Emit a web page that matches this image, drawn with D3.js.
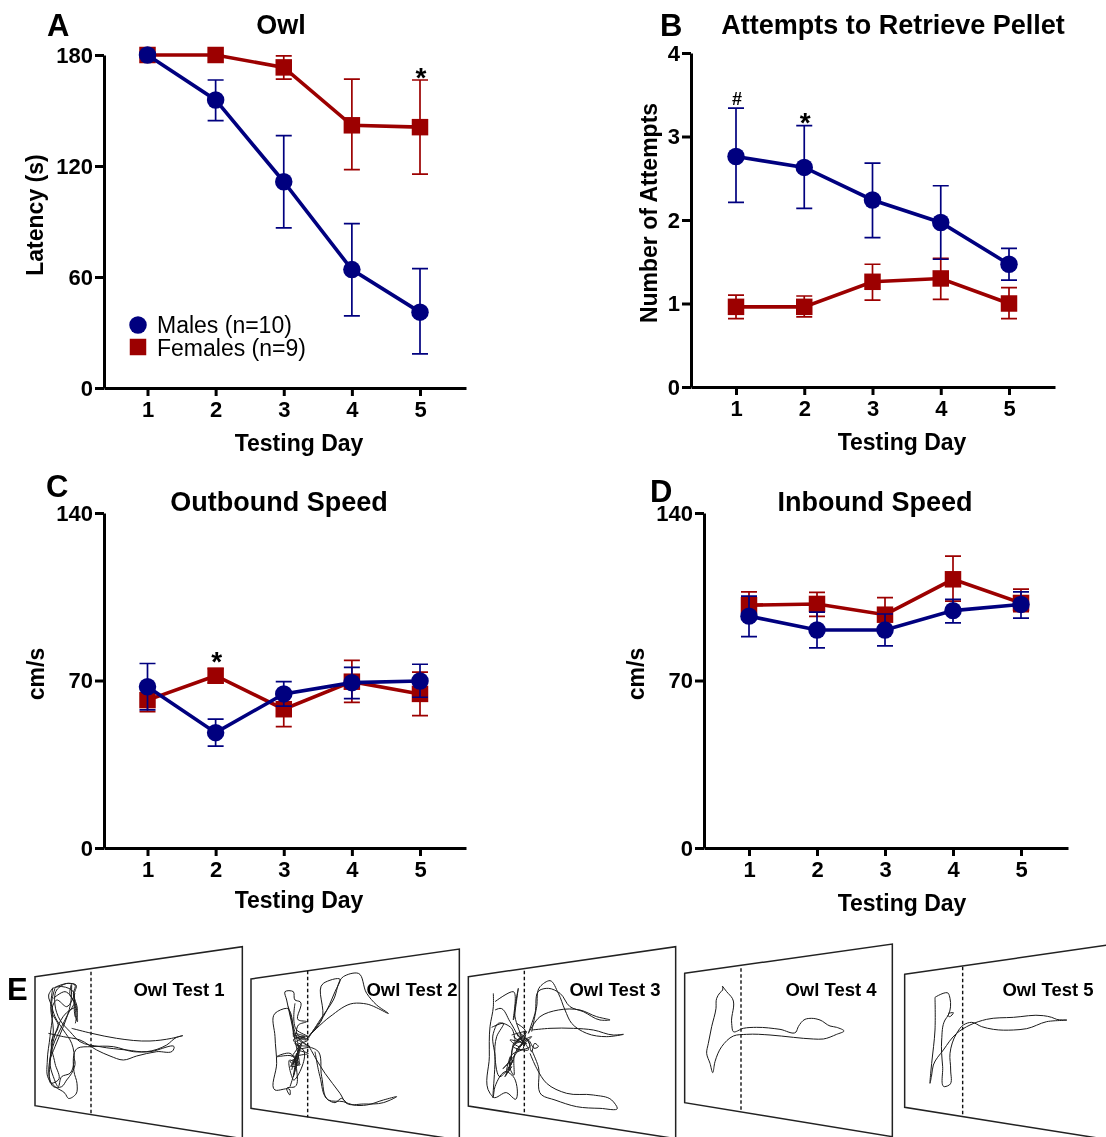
<!DOCTYPE html>
<html>
<head>
<meta charset="utf-8">
<script src="https://cdn.jsdelivr.net/npm/d3@7"></script>
<style>
  html, body { margin: 0; padding: 0; background: #fff; }
  svg { display: block; font-family: "Liberation Sans", Arial, sans-serif; }
  text { fill: #000; }
</style>
</head>
<body>
<div id="figure"></div>
<script>
const days = [1, 2, 3, 4, 5];

// panel A, latency (s)
const owlMales = [180, 155.7, 111.5, 64, 41];
const owlMalesHi = [180, 166.5, 136.4, 88.8, 64.5];
const owlMalesLo = [180, 144.5, 86.6, 39, 18.4];
const owlFemales = [180, 180, 173.3, 142, 141];
const owlFemalesHi = [180, 180, 179.5, 167, 166.5];
const owlFemalesLo = [180, 180, 167, 118, 115.6];

// panel B, attempts
const attemptsMales = [2.76, 2.63, 2.24, 1.97, 1.47];
const attemptsMalesHi = [3.34, 3.13, 2.68, 2.41, 1.66];
const attemptsMalesLo = [2.21, 2.14, 1.79, 1.53, 1.28];
const attemptsFemales = [0.96, 0.96, 1.26, 1.3, 1.0];
const attemptsFemalesHi = [1.1, 1.09, 1.47, 1.54, 1.19];
const attemptsFemalesLo = [0.82, 0.84, 1.04, 1.05, 0.82];

// panel C, outbound speed (cm/s)
const outMales = [67.4, 48.2, 64.4, 69.1, 69.8];
const outMalesHi = [77.1, 53.9, 69.5, 75.5, 76.8];
const outMalesLo = [57.7, 42.6, 59.3, 62.4, 63];
const outFemales = [61.8, 72, 58, 69.5, 64.4];
const outFemalesHi = [67.8, 75, 64, 78.4, 73.5];
const outFemalesLo = [57, 69, 50.7, 60.9, 55.3];

// panel D, inbound speed (cm/s)
const inMales = [96.9, 91.1, 91.1, 99.2, 101.8];
const inMalesHi = [105.3, 98.6, 97.8, 103.9, 107];
const inMalesLo = [88.3, 83.6, 84.5, 94.1, 96.1];
const inFemales = [101.5, 102, 97.5, 112.3, 102.4];
const inFemalesHi = [107, 106.8, 104.6, 122, 108.2];
const inFemalesLo = [96, 96.8, 92, 103.2, 98.8];

const legendLabels = ['Males (n=10)', 'Females (n=9)'];

// panel E, tracking paths
const trackTest1 = [
  [[160,172],[146,195],[156,232],[150,320],[142,390],[145,445],[165,470],[195,490],[205,505],[228,492],[231,460],[222,425],[232,355],[275,350],[340,350],[400,365],[450,365],[522,355],[520,360],[470,365],[410,378],[370,390],[330,378],[290,360],[240,330],[190,320],[145,310]],
  [[215,295],[275,310],[350,325],[450,333],[515,325],[548,317],[530,322],[500,345],[440,365],[380,360],[300,350],[240,335],[210,305],[180,270],[165,225],[170,180],[205,160],[225,165],[220,190],[230,240],[232,275],[225,255],[215,180],[175,170],[160,175]],
  [[215,165],[212,220],[190,290],[165,350],[150,395],[160,440],[175,470],[185,440],[210,430],[222,395],[215,340],[190,300],[165,260],[155,220],[165,175]],
  [[225,190],[200,230],[170,210],[155,240],[175,290],[155,330],[165,400],[175,450],[155,460],[150,400],[158,340],[210,240],[230,230]],
  [[165,172],[205,160],[228,165],[222,195],[232,235],[226,280]],
  [[158,175],[152,230],[160,300],[152,370],[148,440],[160,470],[185,470],[200,450],[215,430],[225,395],[222,385]],
  [[215,160],[210,195],[222,215],[205,250],[180,300],[160,345],[150,390]],
  [[160,205],[195,185],[225,225],[225,260]]
];
const trackTest2 = [
  [[925,320],[965,270],[970,160],[1020,148],[1005,185],[970,260],[925,320]],
  [[925,320],[990,260],[1060,220],[1100,222],[1165,250],[1130,225],[1100,190],[1075,130],[1030,140],[1000,210],[960,270],[925,325]],
  [[925,350],[950,360],[965,440],[985,510],[1030,515],[1060,525],[1100,525],[1150,510],[1190,500],[1150,518],[1090,522],[1040,520],[1020,490],[975,430],[950,390],[925,345]],
  [[880,320],[860,235],[825,250],[825,320],[830,400],[825,480],[870,480],[870,495],[860,475],[885,470],[890,420],[880,380],[830,380],[870,370],[895,400],[885,330],[860,210],[855,185],[880,185],[885,210],[900,215],[895,270],[920,275],[895,285],[890,310],[920,330],[880,320]],
  [[880,315],[925,330],[890,345],[930,350],[895,360],[925,370],[890,380],[875,410],[895,405],[870,390],[880,450],[910,360],[885,340],[915,320],[880,330],[900,350]],
  [[865,230],[880,290],[895,350],[885,420],[870,470]],
  [[875,380],[905,340],[880,400],[900,350],[880,440],[890,370],[875,420]],
  [[885,220],[890,300],[925,320],[880,310],[920,345],[895,330]],
  [[880,375],[900,405],[870,395],[895,385],[870,410]],
  [[945,365],[960,440],[985,510],[1005,518],[1025,505],[1040,520]]
];
const trackTest3 = [
  [[215,275],[230,200],[240,140],[270,122],[295,160],[315,210],[335,250],[380,280],[440,290],[490,283],[460,285],[400,270],[340,265],[270,265],[215,270]],
  [[205,280],[240,230],[295,210],[360,210],[410,230],[450,240],[420,240],[370,215],[330,200],[300,160],[265,145],[240,150],[225,220],[205,280]],
  [[215,330],[235,380],[245,465],[285,480],[350,500],[420,505],[472,505],[455,480],[400,465],[320,460],[260,430],[230,385],[210,340]],
  [[100,160],[100,200],[90,260],[88,350],[90,460],[100,472],[140,458],[165,478],[160,410],[140,395],[105,440],[100,470],[105,350],[100,280],[115,250],[155,265],[165,300]],
  [[105,185],[160,155],[160,240],[175,145],[165,230],[185,290]],
  [[105,210],[120,205],[150,245],[175,290]],
  [[95,262],[130,250],[110,290],[105,350],[120,410],[150,375],[160,320],[190,290]],
  [[155,285],[200,275],[165,310],[215,290],[170,330],[210,320],[180,280],[190,325],[155,345],[150,385],[160,405],[165,340],[205,300],[225,325],[235,320],[225,310],[215,335],[200,295],[170,300],[145,370],[130,385],[175,330],[195,270],[170,250]],
  [[160,290],[190,310],[170,280],[205,330],[160,320],[195,285],[180,320],[150,300],[200,310],[175,295]],
  [[150,350],[140,400],[155,380],[135,410],[160,360],[145,390],[165,345]]
];
const trackTest4 = [
  [[127,138],[128,150],[120,158],[110,175],[108,205],[95,260],[85,310],[80,340],[90,370],[98,398],[105,365],[125,320],[160,288],[200,283],[270,285],[340,292],[400,297],[430,297],[470,283],[492,273],[470,262],[450,258],[420,240],[395,235],[375,238],[355,260],[348,276],[300,268],[230,262],[190,265],[160,275],[155,250],[157,175],[140,155],[127,138]]
];
const trackTest5 = [
  [[105,172],[145,160],[150,175],[145,225],[135,240],[125,300],[128,380],[135,440],[148,435],[152,390],[150,340],[170,280],[190,255],[215,247],[245,260],[280,268],[340,270],[380,266],[440,245],[500,240],[470,238],[455,232],[430,227],[340,232],[260,238],[210,255],[170,280],[130,330],[100,375],[95,405],[90,430],[92,400],[95,370],[105,270],[105,172]],
  [[145,220],[160,218],[148,230],[142,225]]
];

const navy = '#00007f';
const red = '#9c0000';

const svg = d3.select('#figure').append('svg')
  .attr('width', 1106)
  .attr('height', 1137)
  .style('filter', 'blur(0.35px)');

function addText(str, x, y, size, weight = 'bold', anchor = 'middle') {
  return svg.append('text')
    .attr('x', x)
    .attr('y', y)
    .attr('text-anchor', anchor)
    .style('font-size', `${size}px`)
    .style('font-weight', weight)
    .text(str);
}

// one series: error bars, then line, then markers
function drawSeries(g, x, y, vals, hi, lo, color, shape) {
  const rows = days.map((d, i) => ({ d, v: vals[i], hi: hi[i], lo: lo[i] }));

  rows.forEach((r) => {
    g.append('path')
      .attr('d', `M${x(r.d) - 8},${y(r.hi)}H${x(r.d) + 8}M${x(r.d)},${y(r.hi)}V${y(r.lo)}M${x(r.d) - 8},${y(r.lo)}H${x(r.d) + 8}`)
      .attr('fill', 'none')
      .attr('stroke', color)
      .attr('stroke-width', 1.7);
  });

  g.append('path')
    .attr('d', d3.line().x((r) => x(r.d)).y((r) => y(r.v))(rows))
    .attr('fill', 'none')
    .attr('stroke', color)
    .attr('stroke-width', 3.6);

  g.selectAll(null)
    .data(rows)
    .enter()
    .append('path')
    .attr('transform', (r) => `translate(${x(r.d)},${y(r.v)})`)
    .attr('d', d3.symbol().type(shape).size(shape === d3.symbolCircle ? 240 : 272))
    .attr('fill', color);
}

function drawPanel(p) {
  const x = d3.scaleLinear().domain([1, 5]).range([p.x1, p.x5]);
  x.domain([x.invert(p.axisX), x.invert(p.axisEnd)]).range([p.axisX, p.axisEnd]);
  const y = d3.scaleLinear().domain([0, p.yMax]).range([p.y0, p.yTop]);

  const g = svg.append('g');

  const xAxis = g.append('g')
    .attr('transform', `translate(0,${p.y0})`)
    .call(d3.axisBottom(x).tickValues(days).tickFormat(d3.format('d')).tickSizeInner(8)
      .tickSizeOuter(0).tickPadding(p.xPad));
  const yAxis = g.append('g')
    .attr('transform', `translate(${p.axisX},0)`)
    .call(d3.axisLeft(y).tickValues(p.yTicks).tickFormat(d3.format('d')).tickSizeInner(9)
      .tickSizeOuter(0).tickPadding(2));

  [xAxis, yAxis].forEach((a) => {
    a.select('.domain').attr('stroke', '#000').attr('stroke-width', 3);
    a.selectAll('.tick line').attr('stroke', '#000').attr('stroke-width', 3);
    a.selectAll('.tick text')
      .style('font-size', '22px')
      .style('font-weight', 'bold')
      .style('font-family', '"Liberation Sans", Arial, sans-serif')
      .attr('fill', '#000');
  });

  drawSeries(g, x, y, p.females, p.femalesHi, p.femalesLo, red, d3.symbolSquare);
  drawSeries(g, x, y, p.males, p.malesHi, p.malesLo, navy, d3.symbolCircle);

  addText(p.letter, p.letterX, p.letterY, 31, 'bold', 'start');
  addText(p.title, p.titleX, p.titleY, 27);
  addText('Testing Day', p.xLabelX, p.xLabelY, 23);
  addText(p.yLabel, 0, 0, 23)
    .attr('transform', `translate(${p.yLabelX},${p.yLabelY}) rotate(-90)`);

  (p.marks || []).forEach((m) => {
    addText(m.t, x(m.day) + 1, m.y, m.size);
  });
}

drawPanel({
  letter: 'A', letterX: 47, letterY: 36, title: 'Owl', titleX: 281, titleY: 34,
  x1: 147.5, x5: 420, axisX: 104, axisEnd: 466, y0: 388, yTop: 55, yMax: 180, yTicks: [0, 60, 120, 180],
  xPad: 5, xLabelX: 299, xLabelY: 451, yLabel: 'Latency (s)', yLabelX: 43, yLabelY: 215,
  males: owlMales, malesHi: owlMalesHi, malesLo: owlMalesLo,
  females: owlFemales, femalesHi: owlFemalesHi, femalesLo: owlFemalesLo,
  marks: [{ t: '*', day: 5, y: 87, size: 28 }],
});

drawPanel({
  letter: 'B', letterX: 660, letterY: 36, title: 'Attempts to Retrieve Pellet', titleX: 893, titleY: 34,
  x1: 736, x5: 1009, axisX: 691, axisEnd: 1055, y0: 387, yTop: 53, yMax: 4, yTicks: [0, 1, 2, 3, 4],
  xPad: 5, xLabelX: 902, xLabelY: 450, yLabel: 'Number of Attempts', yLabelX: 657, yLabelY: 213,
  males: attemptsMales, malesHi: attemptsMalesHi, malesLo: attemptsMalesLo,
  females: attemptsFemales, femalesHi: attemptsFemalesHi, femalesLo: attemptsFemalesLo,
  marks: [{ t: '#', day: 1, y: 105, size: 18 }, { t: '*', day: 2, y: 132, size: 28 }],
});

drawPanel({
  letter: 'C', letterX: 46, letterY: 497, title: 'Outbound Speed', titleX: 279, titleY: 511,
  x1: 147.5, x5: 420, axisX: 104, axisEnd: 466, y0: 848, yTop: 513, yMax: 140, yTicks: [0, 70, 140],
  xPad: 5, xLabelX: 299, xLabelY: 908, yLabel: 'cm/s', yLabelX: 44, yLabelY: 674,
  males: outMales, malesHi: outMalesHi, malesLo: outMalesLo,
  females: outFemales, femalesHi: outFemalesHi, femalesLo: outFemalesLo,
  marks: [{ t: '*', day: 2, y: 671, size: 28 }],
});

drawPanel({
  letter: 'D', letterX: 650, letterY: 502, title: 'Inbound Speed', titleX: 875, titleY: 511,
  x1: 749, x5: 1021, axisX: 704, axisEnd: 1068, y0: 848, yTop: 513, yMax: 140, yTicks: [0, 70, 140],
  xPad: 5, xLabelX: 902, xLabelY: 911, yLabel: 'cm/s', yLabelX: 644, yLabelY: 674,
  males: inMales, malesHi: inMalesHi, malesLo: inMalesLo,
  females: inFemales, femalesHi: inFemalesHi, femalesLo: inFemalesLo,
});

// legend sits inside panel A
svg.append('path')
  .attr('transform', 'translate(138,325)')
  .attr('d', d3.symbol().type(d3.symbolCircle).size(240))
  .attr('fill', navy);
svg.append('path')
  .attr('transform', 'translate(138,347)')
  .attr('d', d3.symbol().type(d3.symbolSquare).size(272))
  .attr('fill', red);
addText(legendLabels[0], 157, 333, 23, 'normal', 'start');
addText(legendLabels[1], 157, 356, 23, 'normal', 'start');

// panel E, perspective arenas
addText('E', 7, 1000, 31, 'bold', 'start');

const arenas = [
  { ox: 0, oy: 930, outline: [[105,140],[727,50],[727,626],[105,527]], dash: [273,125,555], tracks: trackTest1, label: 'Owl Test 1', labelX: 179 },
  { ox: 0, oy: 930, outline: [[753,147],[1378,57],[1378,630],[753,535]], dash: [923,122,562], tracks: trackTest2, label: 'Owl Test 2', labelX: 412 },
  { ox: 460, oy: 940, outline: [[25,110],[647,20],[647,596],[25,498]], dash: [193,92,525], tracks: trackTest3, label: 'Owl Test 3', labelX: 615 },
  { ox: 680, oy: 940, outline: [[14,100],[637,12],[637,590],[14,488]], dash: [183,85,515], tracks: trackTest4, label: 'Owl Test 4', labelX: 831 },
  { ox: 900, oy: 940, outline: [[14,103],[637,13],[637,601],[14,502]], dash: [188,80,530], tracks: trackTest5, label: 'Owl Test 5', labelX: 1048 },
];

arenas.forEach((a) => {
  const tx = d3.scaleLinear().domain([0, 300]).range([a.ox, a.ox + 100]);
  const ty = d3.scaleLinear().domain([0, 300]).range([a.oy, a.oy + 100]);
  const g = svg.append('g');

  g.append('path')
    .attr('d', d3.line().x((d) => tx(d[0])).y((d) => ty(d[1]))(a.outline) + 'Z')
    .attr('fill', 'none')
    .attr('stroke', '#222')
    .attr('stroke-width', 1.5);

  g.append('line')
    .attr('x1', tx(a.dash[0]))
    .attr('x2', tx(a.dash[0]))
    .attr('y1', ty(a.dash[1]))
    .attr('y2', ty(a.dash[2]))
    .attr('stroke', '#111')
    .attr('stroke-width', 1.4)
    .attr('stroke-dasharray', '3.5 2.5');

  const trackLine = d3.line()
    .x((d) => tx(d[0]))
    .y((d) => ty(d[1]))
    .curve(d3.curveCatmullRom.alpha(1));

  g.selectAll(null)
    .data(a.tracks)
    .enter()
    .append('path')
    .attr('d', trackLine)
    .attr('fill', 'none')
    .attr('stroke', '#1a1a1a')
    .attr('stroke-width', 1);

  addText(a.label, a.labelX, 996, 18.5);
});
</script>
</body>
</html>
